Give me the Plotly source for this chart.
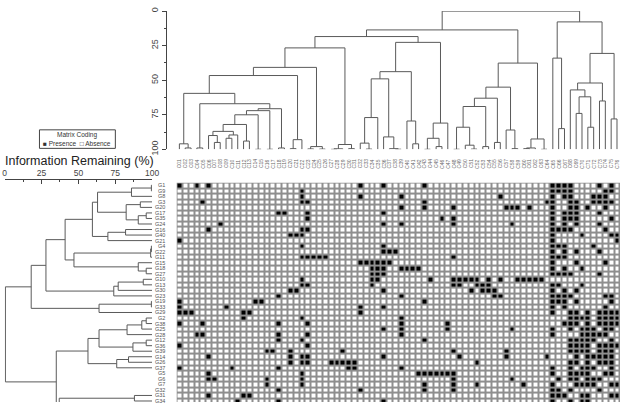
import plotly.graph_objects as go

W, H = 627, 408

# ---------------- data ----------------
row_labels = ["G1", "G9", "G8", "G3", "G20", "G17", "G35", "G24", "G16", "G40",
              "G21", "G4", "G22", "G11", "G15", "G18", "G27", "G10", "G13", "G30",
              "G23", "G19", "G33", "G29", "G2", "G38", "G25", "G28", "G12", "G36",
              "G39", "G14", "G26", "G37", "G5", "G6", "G7", "G32", "G31", "G34"]

col_labels = ["C%02d" % (i + 1) for i in range(76)]

# presence (black) columns for each row, rows in the order of row_labels
presence = [
    [0, 3, 5, 31, 35, 42, 64, 65, 66, 67, 72, 74],
    [21, 64, 65, 66, 67, 73, 74],
    [21, 31, 38, 55, 64, 66, 67, 71, 72, 73],
    [4, 21, 22, 42, 63, 64, 67, 68, 71, 72, 73, 74],
    [38, 42, 47, 56, 57, 58, 60, 64, 67, 68, 70, 73],
    [17, 18, 22, 35, 64, 66, 67, 68, 72],
    [22, 45, 47, 64, 66, 67, 68, 74],
    [7, 35, 38, 47, 57, 64, 66, 68, 72],
    [5, 21, 22, 64, 65, 66, 67, 73],
    [19, 20, 21, 64, 69, 74, 75],
    [0, 64, 75],
    [21, 35, 64, 65, 66, 71],
    [35, 36, 37, 64, 66, 68, 72],
    [21, 22, 23, 24, 25, 47, 64, 65, 66],
    [31, 32, 33, 34, 35, 36, 64, 68, 73],
    [33, 34, 35, 38, 39, 40, 41, 64, 66, 69],
    [33, 34, 35, 64, 65, 66, 67, 72],
    [21, 33, 34, 43, 47, 48, 49, 50, 51, 53, 55, 58, 59, 60, 61, 62],
    [21, 22, 33, 47, 48, 51, 52, 53, 64, 65, 69],
    [19, 20, 35, 50, 52, 53, 54, 64, 66, 68],
    [17, 38, 54, 55, 64, 65, 66, 67, 73, 74],
    [0, 13, 14, 42, 64, 65, 66, 68, 74],
    [0, 8, 31, 35, 64, 66, 73],
    [0, 1, 2, 11, 12, 31, 64, 67, 68, 70, 72, 73, 74, 75],
    [11, 21, 38, 67, 68, 69, 70, 72, 73, 74, 75],
    [0, 4, 17, 22, 38, 46, 66, 67, 68, 70, 72, 73, 74, 75],
    [35, 38, 46, 57, 64, 67, 69, 70, 71, 73, 74],
    [3, 4, 17, 22, 38, 64, 69, 70, 71, 72, 73],
    [17, 21, 42, 67, 68, 69, 70, 71, 74],
    [0, 22, 67, 68, 69, 70, 72, 73, 74, 75],
    [15, 16, 19, 28, 47, 56, 67, 68, 69, 70, 72, 73, 74],
    [5, 19, 21, 22, 35, 48, 56, 63, 68, 70, 71, 72, 73, 74],
    [19, 21, 22, 26, 27, 28, 29, 30, 51, 67, 68, 70, 72, 73, 74],
    [0, 9, 17, 29, 30, 38, 64, 67, 69, 70, 71, 74],
    [5, 21, 41, 42, 43, 44, 45, 46, 47, 64, 67, 68, 69, 70, 73, 74],
    [5, 6, 15, 21, 47, 57, 65, 67, 68, 70, 71, 72],
    [15, 21, 42, 47, 51, 59, 64, 68, 69, 70, 71, 74, 75],
    [17, 31, 42, 47, 64, 65, 67, 72],
    [5, 11, 12, 64, 65, 66, 69, 70, 74, 75],
    [10, 17, 35, 64, 67, 69, 70],
]

# column dendrogram: (height, left, right); leaves are column indices (height 100)
col_tree = (0,
    (13.6,
        (18.4,
            (26.6,
                (40.7,
                    (46.6,
                        (59.5,
                            (96, 0, (99, 1, 2)),
                            (67, (99, 3, 4),
                                (70.6,
                                    (72,
                                        (75,
                                            (82,
                                                (87, (90, 5, (95, 6, 7)), (89.6, (92, 8, 9), 10)),
                                                (94, 11, 12)),
                                            (99.9, 13, 14)),
                                        (99.9, 15, 16)),
                                    (99, 17, 18)))),
                        (93, (99.5, 19, 20), 21)),
                    (98, (99.7, 22, 23), (99.8, 24, 25))),
                (96.5, (99.6, (99.9, 26, 27), 28), (99.5, 29, 30))),
            (22.6,
                (43.8,
                    (49,
                        (77, (95.5, 31, (99.8, 32, 33)), 34),
                        (91, 35, (99.5, 36, (99.9, 37, 38)))),
                    (79.5, 39, (96, 40, 41))),
                (81, (92, (99.9, 42, 43), (98, 44, 45)), 46))),
        (37.6,
            (55,
                (63,
                    (69,
                        (84, (99.9, 47, 48), (97, 49, (99.8, 50, 51))),
                        (98, 52, 53)),
                    (95, 54, 55)),
                (86, 56, (99.5, 57, 58))),
            (92.5, (99, (99.5, 59, 60), 61), (99.9, 62, 63)))),
    (7.8,
        (34, 64, (85, 65, 66)),
        (30.6,
            (52,
                (57, 67, (62, (74, 68, 69), (84, 70, 71))),
                (65, 72, 73)),
            (78, 74, 75))))

# row dendrogram: (value, upper, lower); leaves are row indices (value 100).
# The lowest branch continues below the cropped bottom edge (rows 40+).
row_tree = (0.5,
    (18,
        (28,
            (41,
                (59.5,
                    (63,
                        (86, (99.5, 0, 1), 2),
                        (82.4, (92, 3, 4), (90.6, (96, 5, 6), 7))),
                    (70, (82, 8, 9), 10)),
                (47,
                    (99, (99.5, 11, 12), 13),
                    (90.6, 14, (96, 15, 16)))),
            (74, (77, (94, 17, 18), 19), 20)),
        (64, (99.5, 21, 22), 23)),
    (35,
        (56.5,
            (64,
                (83, (93, (96, 24, 25), 26), 27),
                (87, (96, 28, 29), 30)),
            (76, (84, 31, 32), 33)),
        (37,
            (88, 38, 39),
            (60,
                (80, (90, 40, 41), (92, 42, 43)),
                (70, (85, 44, 45), (90, (94, 46, 47), (96, 48, 49)))))))

# ---------------- helpers ----------------
def px_x(x):
    return x / W


def px_y(y):
    return 1 - y / H


def dendro_segments(node, pos_out, val_out):
    """returns (position, value) of node, appends polyline coords"""
    if isinstance(node, int):
        return float(node), 100.0
    h, a, b = node
    pa, va = dendro_segments(a, pos_out, val_out)
    pb, vb = dendro_segments(b, pos_out, val_out)
    pos_out += [pa, pa, pb, pb, None]
    val_out += [va, h, h, vb, None]
    return (pa + pb) / 2.0, h


n_rows = len(row_labels)
n_cols = len(col_labels)
z = [[1 if c in presence[r] else 0 for c in range(n_cols)] for r in range(n_rows)]

# geometry (pixels in the 627x408 picture)
HM_LEFT, HM_TOP = 177, 183
CELL_W, CELL_H = 5.92, 5.67
x_range = [-0.5, -0.5 + (W - HM_LEFT) / CELL_W]
y_range = [-0.5 + (H - HM_TOP) / CELL_H, -0.5]

LINE = "#5a5a5a"
FONT = "Liberation Sans, Arial, sans-serif"

fig = go.Figure()

fig.add_trace(go.Heatmap(
    z=z, x=list(range(n_cols)), y=list(range(n_rows)),
    colorscale=[[0, "white"], [1, "black"]], zmin=0, zmax=1,
    showscale=False, xgap=2, ygap=2, hoverinfo="skip",
    xaxis="x", yaxis="y"))

cx, cy = [], []
dendro_segments(col_tree, cx, cy)
fig.add_trace(go.Scatter(x=cx, y=cy, mode="lines", line=dict(color=LINE, width=1),
                         xaxis="x2", yaxis="y2", hoverinfo="skip", showlegend=False))

rp, rv = [], []
dendro_segments(row_tree, rp, rv)
fig.add_trace(go.Scatter(x=rv, y=rp, mode="lines", line=dict(color=LINE, width=1),
                         xaxis="x3", yaxis="y3", hoverinfo="skip", showlegend=False))

hm_xdom = [px_x(HM_LEFT), 1]
hm_ydom = [0, px_y(HM_TOP)]

fig.update_layout(
    width=W, height=H, margin=dict(l=0, r=0, t=0, b=0),
    paper_bgcolor="white", plot_bgcolor="white", showlegend=False,
    font=dict(family=FONT, color="#333"),
    xaxis=dict(domain=hm_xdom, range=x_range, visible=False, anchor="y"),
    yaxis=dict(domain=hm_ydom, range=y_range, visible=False, anchor="x"),
    xaxis2=dict(domain=hm_xdom, range=x_range, visible=False, anchor="y2"),
    yaxis2=dict(domain=[px_y(149), px_y(7.3)], range=[100, 0], anchor="free",
                position=px_x(166), showline=True, linecolor="#444", linewidth=1,
                ticks="outside", ticklen=4, tickcolor="#444",
                tickvals=[0, 25, 50, 75, 100], tickangle=-90,
                tickfont=dict(size=9, color="#444"), showgrid=False, zeroline=False,
                minor=dict(ticks="outside", ticklen=2, dtick=12.5, tick0=0,
                           tickcolor="#444", showgrid=False)),
    xaxis3=dict(domain=[px_x(2.7), px_x(152.3)], range=[0, 100], side="top",
                anchor="free", position=px_y(179.3), showline=True, linecolor="#444",
                linewidth=1, ticks="inside", ticklen=4, tickcolor="#444",
                tickvals=[0, 25, 50, 75, 100], tickfont=dict(size=8.5, color="#444"),
                ticklabelstandoff=0,
                showgrid=False, zeroline=False,
                minor=dict(ticks="inside", ticklen=2, dtick=12.5, tick0=0,
                           tickcolor="#444", showgrid=False)),
    yaxis3=dict(domain=hm_ydom, range=y_range, visible=False, anchor="x3"),
)

shapes = [
    dict(type="rect", xref="x", yref="y", x0=x_range[0], x1=x_range[1],
         y0=-0.5, y1=n_rows - 0.5, fillcolor="#8e8e8e", line=dict(width=0),
         layer="below"),
    dict(type="rect", xref="paper", yref="paper", x0=px_x(38), x1=px_x(115),
         y0=px_y(148), y1=px_y(129), line=dict(color="#444", width=1),
         fillcolor="rgba(0,0,0,0)"),
]

annotations = [
    dict(text="Information Remaining (%)", x=px_x(2), y=px_y(160.5), xref="paper",
         yref="paper", xanchor="left", yanchor="middle", showarrow=False,
         borderpad=0, font=dict(size=12.5, color="#222", family=FONT)),
    dict(text="Matrix Coding", x=px_x(76.5), y=px_y(134), xref="paper", yref="paper",
         xanchor="center", yanchor="middle", showarrow=False,
         font=dict(size=6.5, color="#333", family=FONT)),
    dict(text="\u25a0 Presence  \u25a1 Absence", x=px_x(76.5), y=px_y(143.5),
         xref="paper", yref="paper", xanchor="center", yanchor="middle",
         showarrow=False, font=dict(size=6.5, color="#333", family=FONT)),
]

for r, lab in enumerate(row_labels):
    annotations.append(dict(text=lab, x=px_x(166), y=r, xref="paper", yref="y",
                            xanchor="right", yanchor="middle", showarrow=False,
                            borderpad=0, font=dict(size=5.5, color="#555", family=FONT)))

for c, lab in enumerate(col_labels):
    annotations.append(dict(text=lab, x=c, y=px_y(164), xref="x", yref="paper",
                            textangle=-90, xanchor="center", yanchor="middle",
                            showarrow=False, font=dict(size=5, color="#666", family=FONT)))

fig.update_layout(shapes=shapes, annotations=annotations)

fig.write_html("out.html")
